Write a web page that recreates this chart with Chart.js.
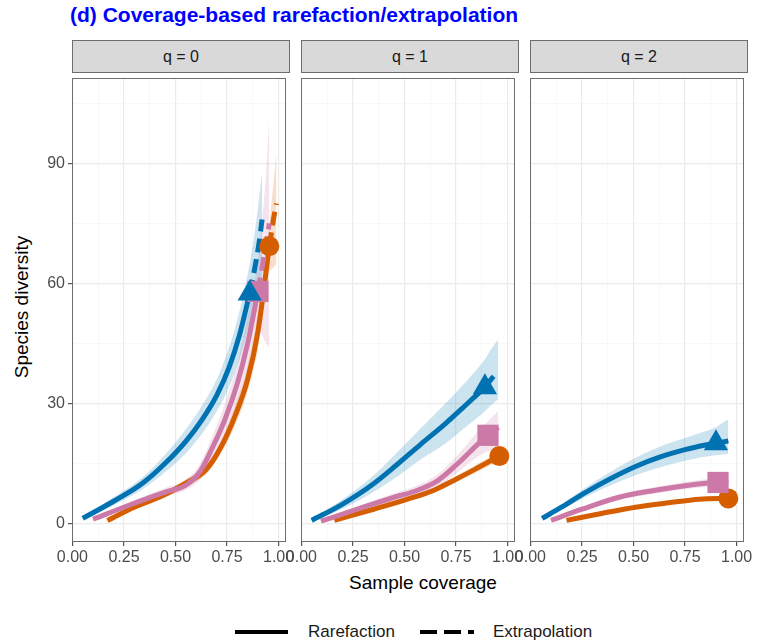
<!DOCTYPE html>
<html>
<head>
<meta charset="utf-8">
<script src="https://cdn.jsdelivr.net/npm/chart.js@4.4.1/dist/chart.umd.min.js"></script>
<style>
  body { margin:0; width:757px; height:643px; position:relative; overflow:hidden; background:#fff; font-family:"Liberation Sans", Arial, sans-serif; }
  .abs { position:absolute; white-space:nowrap; }
  canvas { position:absolute; }
  .strip { position:absolute; top:40px; height:33px; width:218px; background:#D9D9D9; border:1px solid #6e6e6e; box-sizing:border-box; text-align:center; line-height:31px; font-size:16px; color:#1A1A1A; }
  .key { position:absolute; height:4px; background:#000; top:630px; }
  .lbl { position:absolute; top:622px; font-size:17px; color:#1A1A1A; }
</style>
</head>
<body>
<div class="abs" style="left:70px; top:3px; font-weight:bold; font-size:21px; color:#0000FF;">(d) Coverage-based rarefaction/extrapolation</div>
<div class="abs" style="left:22px; top:307px; font-size:19px; color:#000; transform:translate(-50%,-50%) rotate(-90deg);">Species diversity</div>
<div class="abs" style="left:423px; top:583px; font-size:19px; color:#000; transform:translate(-50%,-50%);">Sample coverage</div>

<div id="strips"></div>
<div id="panels"></div>

<div class="key" style="left:235px; width:53px;"></div>
<div class="lbl" style="left:308px;">Rarefaction</div>
<div class="key" style="left:420px; width:17px;"></div>
<div class="key" style="left:444px; width:17px;"></div>
<div class="key" style="left:468px; width:6px;"></div>
<div class="lbl" style="left:493px;">Extrapolation</div>

<script>
// Facets
const panelLabels = ['q = 0', 'q = 1', 'q = 2'];

// Site A (blue): coverage, diversity, CI lower/upper, index of the observed sample, per q
const aCov = [
  [0.05, 0.2, 0.34, 0.45, 0.55, 0.63, 0.7, 0.76, 0.81, 0.86, 0.885, 0.905, 0.92],
  [0.05, 0.2, 0.34, 0.46, 0.58, 0.7, 0.8, 0.89, 0.92, 0.955],
  [0.057, 0.15, 0.27, 0.39, 0.51, 0.63, 0.75, 0.83, 0.9, 0.93, 0.96]
];
const aDiv = [
  [1.2, 5.5, 10, 15, 20.5, 26, 32, 39, 47, 57.5, 64, 70, 76],
  [0.7, 4.8, 9.5, 14.5, 19.8, 25, 29.7, 34, 36, 38],
  [1.2, 4, 7.8, 11.2, 14.2, 16.6, 18.4, 19.4, 20, 20.3, 20.6]
];
const aLo = [
  [0.8, 4.5, 8.5, 12.8, 17.5, 22.5, 28, 34, 41, 50, 54, 58, 61],
  [0.4, 3.6, 7.5, 11.5, 16, 20, 24.2, 28, 29.5, 31],
  [0.9, 3.3, 6.6, 9.5, 12, 14, 15.6, 16.5, 17, 17.2, 17.4]
];
const aHi = [
  [1.6, 6.5, 11.5, 17.2, 23.5, 29.5, 36, 44, 53, 65, 73, 81, 88],
  [1, 6, 11.5, 17.5, 23.8, 30, 35.5, 41, 43.5, 46],
  [1.5, 4.7, 9, 12.9, 16.4, 19.2, 21.3, 22.7, 24, 25, 26]
];
const aObs = [9, 7, 8];

// Site B (pink)
const bCov = [
  [0.1, 0.3, 0.45, 0.55, 0.62, 0.68, 0.74, 0.8, 0.85, 0.9, 0.92, 0.94, 0.955],
  [0.095, 0.3, 0.45, 0.55, 0.66, 0.76, 0.86, 0.905, 0.93, 0.955],
  [0.1, 0.25, 0.43, 0.6, 0.75, 0.85, 0.91, 0.935, 0.96]
];
const bDiv = [
  [1, 5, 7.8, 9.5, 13, 19, 26, 35, 45, 58, 64, 70, 75],
  [0.5, 4, 6.5, 8, 10.6, 15, 20, 22, 23, 24],
  [0.7, 3.5, 6.5, 8.2, 9.4, 10, 10.2, 10.3, 10.4]
];
const bLo = [
  [0.7, 4.2, 6.8, 8.3, 11, 16, 22, 30, 38, 50, 47, 45, 44],
  [0.3, 3.3, 5.5, 6.8, 9, 12.8, 16.8, 18, 18.5, 19],
  [0.5, 3, 5.8, 7.4, 8.5, 9, 9.1, 9.1, 9.1]
];
const bHi = [
  [1.3, 5.8, 8.8, 10.8, 15, 22, 30, 40, 52, 66, 76, 88, 102],
  [0.7, 4.7, 7.5, 9.2, 12.2, 17.2, 23.2, 25.5, 26.8, 28],
  [0.9, 4, 7.2, 9, 10.3, 11, 11.3, 11.5, 11.7]
];
const bObs = [9, 7, 6];

// Site C (orange)
const cCov = [
  [0.17, 0.3, 0.42, 0.55, 0.65, 0.72, 0.79, 0.85, 0.9, 0.955, 0.965, 0.975, 0.99],
  [0.16, 0.35, 0.5, 0.64, 0.75, 0.86, 0.96, 0.975, 0.99],
  [0.175, 0.35, 0.51, 0.67, 0.82, 0.96, 0.975, 0.99]
];
const cDiv = [
  [0.7, 4, 6.5, 10, 13.5, 19, 27, 36, 48, 69.3, 72.5, 76, 80],
  [0.7, 3.5, 5.8, 8.2, 11, 14, 16.8, 17.3, 17.8],
  [0.7, 2.5, 4, 5.1, 6, 6.2, 6.25, 6.3]
];
const cLo = [
  [0.5, 3.5, 5.8, 9, 12.3, 17.5, 24.5, 33, 43.5, 63, 63.5, 64, 65],
  [0.5, 3, 5.2, 7.5, 10.2, 13, 15.5, 15.8, 16],
  [0.5, 2.2, 3.6, 4.7, 5.5, 5.7, 5.7, 5.7]
];
const cHi = [
  [0.9, 4.5, 7.2, 11, 14.7, 20.5, 29.5, 39.5, 53, 75, 80, 85, 93],
  [0.9, 4, 6.4, 8.9, 11.8, 15, 18.1, 18.8, 19.6],
  [0.9, 2.8, 4.4, 5.5, 6.5, 6.7, 6.8, 6.9]
];
const cObs = [9, 6, 5];

const sites = [
  { cov: aCov, div: aDiv, lo: aLo, hi: aHi, obs: aObs, color: '#0072B2', band: 'rgba(0,114,178,0.2)', shape: 'triangle', size: 14 },
  { cov: bCov, div: bDiv, lo: bLo, hi: bHi, obs: bObs, color: '#CC79A7', band: 'rgba(204,121,167,0.2)', shape: 'rect', size: 15 },
  { cov: cCov, div: cDiv, lo: cLo, hi: cHi, obs: cObs, color: '#D55E00', band: 'rgba(213,94,0,0.2)', shape: 'circle', size: 10 }
];

// plot area of each facet, page pixels
const panelLeft = [72, 301, 530];
const panelWidth = 217, plotTop = 73, plotHeight = 469;

function pts(xs, ys, from, to) {
  const out = [];
  for (let i = from; i <= to; i++) out.push({ x: xs[i], y: ys[i] });
  return out;
}
const isMajorX = v => Math.abs(v * 4 - Math.round(v * 4)) < 1e-6;
const isMajorY = v => Math.abs(v / 30 - Math.round(v / 30)) < 1e-6;

const panelBorder = {
  id: 'panelBorder',
  afterDraw(chart) {
    const { ctx, chartArea: a } = chart;
    ctx.save();
    ctx.strokeStyle = '#6e6e6e';
    ctx.lineWidth = 1;
    ctx.strokeRect(Math.round(a.left) + 0.5, Math.round(a.top) + 0.5,
      Math.round(a.right - a.left) - 1, Math.round(a.bottom - a.top) - 1);
    ctx.restore();
  }
};

panelLabels.forEach((label, q) => {
  const strip = document.createElement('div');
  strip.className = 'strip';
  strip.style.left = panelLeft[q] + 'px';
  strip.textContent = label;
  document.getElementById('strips').appendChild(strip);

  const yw = q === 0 ? 40 : 18;
  const padTop = 10, padRight = 12, xh = 26;
  const cv = document.createElement('canvas');
  cv.width = yw + panelWidth + padRight;
  cv.height = padTop + plotHeight + xh;
  cv.style.left = (panelLeft[q] - yw) + 'px';
  cv.style.top = (plotTop - padTop) + 'px';
  document.getElementById('panels').appendChild(cv);

  const datasets = [];
  sites.forEach((s, k) => {
    const cov = s.cov[q], n = cov.length, obs = s.obs[q];
    datasets.push({ data: pts(cov, s.hi[q], 0, n - 1), fill: '+1', backgroundColor: s.band, borderWidth: 0, pointRadius: 0, order: 20 + k });
    datasets.push({ data: pts(cov, s.lo[q], 0, n - 1), fill: false, borderWidth: 0, pointRadius: 0, order: 20 + k });
    datasets.push({ data: pts(cov, s.div[q], 0, obs), borderColor: s.color, borderWidth: 5, pointRadius: 0, fill: false, order: 10 + k });
    datasets.push({ data: pts(cov, s.div[q], obs, n - 1), borderColor: s.color, borderWidth: 5, borderDash: [14, 7], pointRadius: 0, fill: false, order: 10 + k });
    datasets.push({ data: [{ x: cov[obs], y: s.div[q][obs] }], showLine: false, pointStyle: s.shape, pointRadius: s.size,
      pointBackgroundColor: s.color, pointBorderWidth: 0, order: k });
  });

  new Chart(cv.getContext('2d'), {
    type: 'line',
    data: { datasets },
    options: {
      responsive: false,
      animation: false,
      devicePixelRatio: 1,
      cubicInterpolationMode: 'monotone',
      layout: { padding: { top: padTop, right: padRight, left: 0, bottom: 0 } },
      plugins: { legend: { display: false }, tooltip: { enabled: false } },
      scales: {
        x: {
          type: 'linear', min: -0.002, max: 1.036,
          afterFit: sc => { sc.height = xh; },
          border: { display: false },
          grid: {
            color: c => isMajorX(c.tick.value) ? '#EBEBEB' : '#F3F3F3',
            lineWidth: c => isMajorX(c.tick.value) ? 1.2 : 0.6,
            tickColor: c => isMajorX(c.tick.value) ? '#555' : 'rgba(0,0,0,0)',
            tickLength: 4
          },
          ticks: {
            stepSize: 0.125, includeBounds: false, autoSkip: false, maxRotation: 0, padding: 2,
            color: '#4D4D4D', font: { family: 'Liberation Sans', size: 16 },
            callback: v => isMajorX(v) ? v.toFixed(2) : ''
          }
        },
        y: {
          min: -4.7, max: 111.4,
          afterFit: sc => { sc.width = yw; },
          border: { display: false },
          grid: {
            color: c => isMajorY(c.tick.value) ? '#EBEBEB' : '#F3F3F3',
            lineWidth: c => isMajorY(c.tick.value) ? 1.2 : 0.6,
            tickColor: c => isMajorY(c.tick.value) ? '#555' : 'rgba(0,0,0,0)',
            drawTicks: q === 0,
            tickLength: 4
          },
          ticks: {
            display: q === 0,
            stepSize: 15, includeBounds: false, autoSkip: false, padding: 3,
            color: '#4D4D4D', font: { family: 'Liberation Sans', size: 16 },
            callback: v => isMajorY(v) ? String(v) : ''
          }
        }
      }
    },
    plugins: [panelBorder]
  });
});
</script>
</body>
</html>
